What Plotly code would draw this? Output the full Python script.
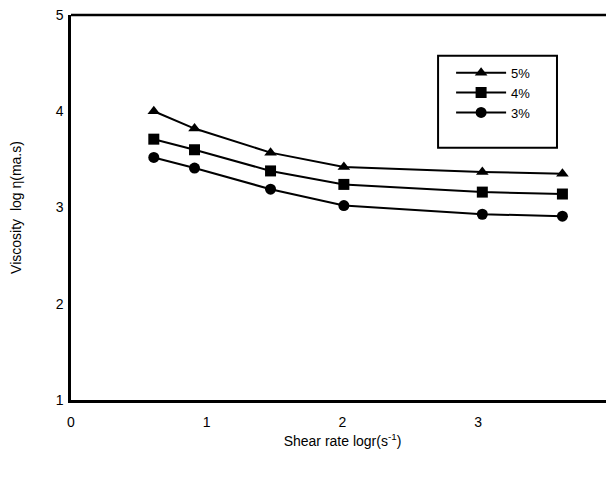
import plotly.graph_objects as go

shear_rate = [0.61, 0.91, 1.47, 2.01, 3.03, 3.62]
visc_5 = [4.00, 3.82, 3.57, 3.42, 3.37, 3.35]
visc_4 = [3.71, 3.60, 3.38, 3.24, 3.16, 3.14]
visc_3 = [3.52, 3.41, 3.19, 3.02, 2.93, 2.91]
series_names = ["5%", "4%", "3%"]
symbols = ["triangle-up", "square", "circle"]

x_ticks = [0, 1, 2, 3, 4]
y_ticks = [1, 2, 3, 4, 5]

font = "Liberation Sans, Arial, sans-serif"

fig = go.Figure()
for name, vals, sym in zip(series_names, [visc_5, visc_4, visc_3], symbols):
    fig.add_trace(go.Scatter(
        x=shear_rate, y=vals, name=name, mode="lines+markers",
        line=dict(color="black", width=2),
        marker=dict(symbol=sym, size=11, color="black"),
    ))

fig.update_layout(
    width=606, height=471,
    margin=dict(l=63, r=0, t=7, b=79),
    paper_bgcolor="white", plot_bgcolor="white",
    font=dict(family=font, color="black", size=14),
    showlegend=True,
    legend=dict(
        x=0.70, y=0.889, xanchor="left", yanchor="top",
        borderwidth=0, bgcolor="rgba(0,0,0,0)",
        font=dict(size=13, family=font), itemwidth=50,
    ),
    xaxis=dict(
        range=[0, 4], tickvals=x_ticks, showgrid=False, zeroline=False,
        showline=True, linecolor="black", linewidth=2.5, automargin=False,
        ticks="outside", ticklen=7, tickcolor="white", ticklabeloverflow="allow",
        title=dict(text="Shear rate logr(s<sup>-1</sup>)", font=dict(size=14), standoff=8),
    ),
    yaxis=dict(
        range=[1, 5], tickvals=y_ticks, showgrid=False, zeroline=False,
        showline=True, linecolor="black", linewidth=2.5, automargin=False,
        ticks="outside", ticklen=2, tickcolor="white", ticklabeloverflow="allow",
        title=dict(text="Viscosity  log η(ma.s)", font=dict(size=14), standoff=31),
    ),
)
fig.add_shape(type="line", xref="paper", yref="paper", x0=0, x1=1, y0=1, y1=1,
              line=dict(color="black", width=2.5))
# legend frame
fig.add_shape(type="rect", xref="paper", yref="paper",
              x0=0.676, x1=0.895, y0=0.655, y1=0.894,
              line=dict(color="black", width=2), fillcolor="rgba(0,0,0,0)")

fig.write_html("out.html")
